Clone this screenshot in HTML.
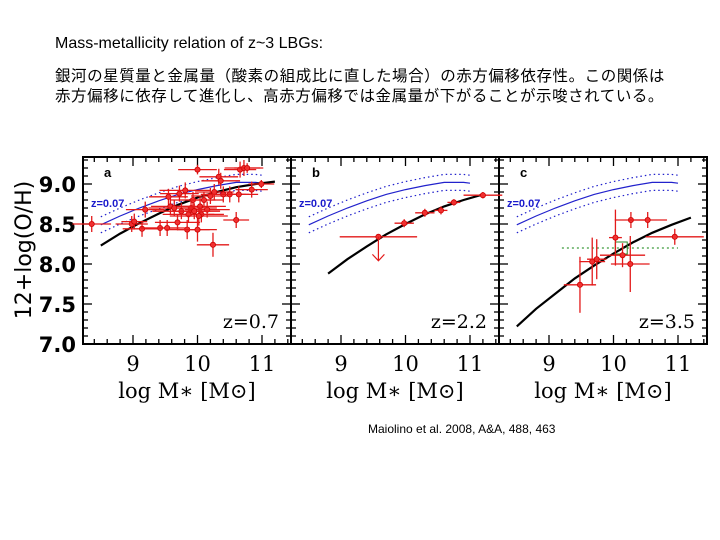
<!DOCTYPE html>
<html><head><meta charset="utf-8">
<style>
body{margin:0;background:#fff;width:720px;height:540px;overflow:hidden;position:relative;font-family:"Liberation Sans","Noto Sans CJK JP",sans-serif}
.t{position:absolute;white-space:nowrap;color:#000}
</style></head><body>
<div class="t" style="left:55px;top:35px;font-size:16px">Mass-metallicity relation of z~3 LBGs:</div>
<div class="t" style="left:55px;top:64px;font-size:15.5px;letter-spacing:0.55px">銀河の星質量と金属量（酸素の組成比に直した場合）の赤方偏移依存性。この関係は</div>
<div class="t" style="left:55px;top:84px;font-size:15.5px;letter-spacing:0.55px">赤方偏移に依存して進化し、高赤方偏移では金属量が下がることが示唆されている。</div>
<div class="t" style="left:368px;top:422px;font-size:12px">Maiolino et al. 2008, A&amp;A, 488, 463</div>
<svg id="chart" width="720" height="540" style="position:absolute;left:0;top:0" xmlns="http://www.w3.org/2000/svg"></svg>
<script>
// model curve sample points (log M*)
const curveX = [8.5,8.8,9.1,9.4,9.7,10.0,10.3,10.6,10.9,11.2];
const localY = [8.49,8.60,8.70,8.79,8.87,8.93,8.98,9.02,9.02,9.01];
const curveZ07 = [8.23,8.38,8.51,8.63,8.74,8.83,8.90,8.96,9.00,9.03];
const curveZ22 = [7.69,7.88,8.06,8.22,8.37,8.50,8.62,8.72,8.80,8.87];
const curveZ35 = [7.22,7.44,7.63,7.82,7.98,8.13,8.27,8.39,8.49,8.58];
const yTicks = [7.0,7.5,8.0,8.5,9.0];
const yTickLabels = ["7.0","7.5","8.0","8.5","9.0"];
const xTicks = [9,10,11];
const xTickLabels = ["9","10","11"];
const panelNames = ["a","b","c"];
const panelZ = ["z=0.7","z=2.2","z=3.5"];
// panel a data
const aX = [8.36,8.98,9.02,9.14,9.19,9.42,9.53,9.55,9.58,9.69,9.72,9.81,9.84,9.9,9.93,10.0,10.0,10.04,10.06,10.1,10.15,10.2,10.24,10.26,10.33,10.36,10.4,10.5,10.6,10.64,10.66,10.72,10.77,10.84,10.99,9.64,9.75,9.86,9.95,10.02];
const aY = [8.5,8.5,8.53,8.44,8.68,8.45,8.45,8.84,8.72,8.52,8.88,8.92,8.43,8.7,8.8,9.18,8.43,8.72,8.62,8.8,8.68,8.85,8.24,8.9,9.09,9.04,8.87,8.87,8.55,8.87,9.18,9.2,9.2,8.93,9.0,8.7,8.66,8.62,8.66,8.6];
const aXerr = [0.3,0.25,0.2,0.3,0.3,0.3,0.35,0.3,0.3,0.35,0.3,0.4,0.35,0.4,0.35,0.3,0.3,0.4,0.35,0.3,0.35,0.3,0.25,0.3,0.3,0.3,0.35,0.3,0.2,0.3,0.25,0.3,0.2,0.25,0.2,0.4,0.45,0.4,0.4,0.45];
const aYerr = [0.1,0.1,0.1,0.1,0.1,0.1,0.1,0.1,0.1,0.1,0.1,0.1,0.12,0.1,0.1,0.06,0.15,0.12,0.1,0.1,0.1,0.1,0.15,0.1,0.1,0.1,0.1,0.1,0.1,0.1,0.1,0.1,0.06,0.1,0.05,0.1,0.1,0.1,0.1,0.12];
// panel b data
const bX = [9.58,9.98,10.3,10.55,10.75,11.2];
const bY = [8.34,8.51,8.64,8.67,8.77,8.86];
const bXerr = [0.6,0.15,0.15,0.1,0.1,0.3];
const bYerr = [0,0.05,0.05,0.05,0.04,0.04];
// panel c data
const cX = [9.48,9.67,9.74,10.03,10.14,10.26,10.27,10.53,10.95];
const cY = [7.74,8.03,8.06,8.33,8.11,8.0,8.55,8.55,8.34];
const cXerr = [0.25,0.2,0.15,0.1,0.35,0.3,0.25,0.3,0.45];
const cYerr = [0.35,0.3,0.25,0.35,0.15,0.35,0.1,0.1,0.1];
const green = [10.12, 8.2];

const svg = document.getElementById('chart');
const NS = 'http://www.w3.org/2000/svg';
const panelLeft = [83,291,499];
const PW = 208, TOP = 157, BOT = 344;
function X(p, v){ return panelLeft[p] + 50 + (v-9)*64.5; }
function Y(v){ return 184 + (9-v)*80; }
function mk(tag, attrs, parent){ const e=document.createElementNS(NS,tag); for(const k in attrs) e.setAttribute(k,attrs[k]); (parent||svg).appendChild(e); return e; }
function poly(p, xs, ys, style, name){
  const pts = xs.map((x,i)=>X(p,x).toFixed(1)+','+Y(ys[i]).toFixed(1)).join(' ');
  const e = mk('polyline',Object.assign({points:pts,fill:'none'},style));
  
  
}
function pts(p, xs, ys, xe, ye, name){
  const g = mk('g',{});
  
  
  xs.forEach((x,i)=>{
    const cx=X(p,x), cy=Y(ys[i]);
    mk('line',{x1:X(p,x-xe[i]),x2:X(p,x+xe[i]),y1:cy,y2:cy,stroke:'#e31a1a','stroke-width':1.3},g);
    if(ye[i]>0) mk('line',{x1:cx,x2:cx,y1:Y(ys[i]-ye[i]),y2:Y(ys[i]+ye[i]),stroke:'#e31a1a','stroke-width':1.3},g);
    const c = mk('circle',{cx:cx,cy:cy,r:2.6,fill:'#f03030',stroke:'#c00','stroke-width':0.8},g);
    
    
  });
}
const blueX = curveX.slice(0,9).concat([11.0]);
const blueY = localY.slice(0,9).concat([9.01]);
const zCurves = [curveZ07, curveZ22, curveZ35];
for(let p=0;p<3;p++){
  const L = panelLeft[p];
  poly(p, blueX, blueY, {stroke:'#2222cc','stroke-width':1.2}, 'local-relation-line');
  poly(p, blueX, blueY.map(v=>v+0.1), {stroke:'#2222cc','stroke-width':1.2,'stroke-dasharray':'1.5,3'}, 'local-upper-dotted');
  poly(p, blueX, blueY.map(v=>v-0.1), {stroke:'#2222cc','stroke-width':1.2,'stroke-dasharray':'1.5,3'}, 'local-lower-dotted');
  const zl = mk('text',{x:L+8,y:207,fill:'#1a1acc','font-size':11,'font-weight':'bold','font-family':'Liberation Sans, sans-serif'});
  zl.textContent='z=0.07';
  
  
  const cx0 = p===1?1:0;
  poly(p, curveX.slice(cx0), zCurves[p].slice(cx0), {stroke:'#000','stroke-width':2.2}, 'model-curve');
  const f = mk('rect',{x:L,y:TOP,width:PW,height:BOT-TOP,fill:'none',stroke:'#000','stroke-width':2});
  
  
  for(let v=8.4; v<=11.41; v+=0.2){
    const x=X(p,v); if(x<L+2||x>L+PW-2) continue;
    const major = Math.abs(v-Math.round(v))<0.01;
    mk('line',{x1:x,x2:x,y1:TOP,y2:TOP+(major?9:5),stroke:'#000','stroke-width':1.3});
    mk('line',{x1:x,x2:x,y1:BOT,y2:BOT-(major?9:5),stroke:'#000','stroke-width':1.3});
  }
  for(let v=7.0; v<=9.31; v+=0.1){
    const y=Y(v); if(y<TOP+2||y>BOT-2) continue;
    const major = Math.abs(v*2-Math.round(v*2))<0.01;
    const w = major?9:5;
    mk('line',{x1:L,x2:L+w,y1:y,y2:y,stroke:'#000','stroke-width':1.3});
    mk('line',{x1:L+PW,x2:L+PW-w,y1:y,y2:y,stroke:'#000','stroke-width':1.3});
  }
  const pl = mk('text',{x:L+21,y:177,'font-size':13,'font-weight':'bold','font-family':'Liberation Sans, sans-serif'});
  pl.textContent = panelNames[p];
  
  
  const zt = mk('text',{x:L+PW-12,y:328,'text-anchor':'end','font-size':19,'font-family':'DejaVu Serif, serif'});
  zt.textContent = panelZ[p];
  
  
  xTicks.forEach((t,i)=>{
    const tx = mk('text',{x:X(p,t),y:371,'text-anchor':'middle','font-size':21,'font-family':'DejaVu Serif, serif'});
    tx.textContent = xTickLabels[i];
    
    
  });
  const xt = mk('text',{x:L+104,y:398,'text-anchor':'middle','font-size':21,'font-family':'DejaVu Serif, serif'});
  xt.textContent = 'log M\u2217 [M\u2299]';
  
  
}
yTicks.forEach((t,i)=>{
  const ty = mk('text',{x:76,y:Y(t)+8,'text-anchor':'end','font-size':21,'font-weight':'bold','font-family':'DejaVu Sans, sans-serif'});
  ty.textContent = yTickLabels[i];
  
  
});
const yt = mk('text',{x:0,y:0,'text-anchor':'middle','font-size':22,'font-family':'DejaVu Sans, sans-serif',transform:'translate(31,250) rotate(-90)'});
yt.textContent='12+log(O/H)';


const gl = mk('line',{x1:X(2,9.2),x2:X(2,11.0),y1:Y(green[1]),y2:Y(green[1]),stroke:'#3a9a3a','stroke-width':1.3,'stroke-dasharray':'2,3'});


const gs = mk('rect',{x:X(2,green[0])-6,y:Y(green[1])-6,width:12,height:12,fill:'none',stroke:'#2a8a2a','stroke-width':1});


pts(0,aX,aY,aXerr,aYerr,'data-points-z07');
pts(1,bX,bY,bXerr,bYerr,'data-points-z22');
pts(2,cX,cY,cXerr,cYerr,'data-points-z35');
const ax = X(1,bX[0]);
const ar = mk('path',{d:`M${ax},${Y(bY[0])} V${Y(bY[0]-0.3)} M${ax-6},${Y(bY[0]-0.22)} L${ax},${Y(bY[0]-0.3)} L${ax+6},${Y(bY[0]-0.22)}`,stroke:'#e31a1a','stroke-width':1.2,fill:'none'});


</script>
</body></html>
